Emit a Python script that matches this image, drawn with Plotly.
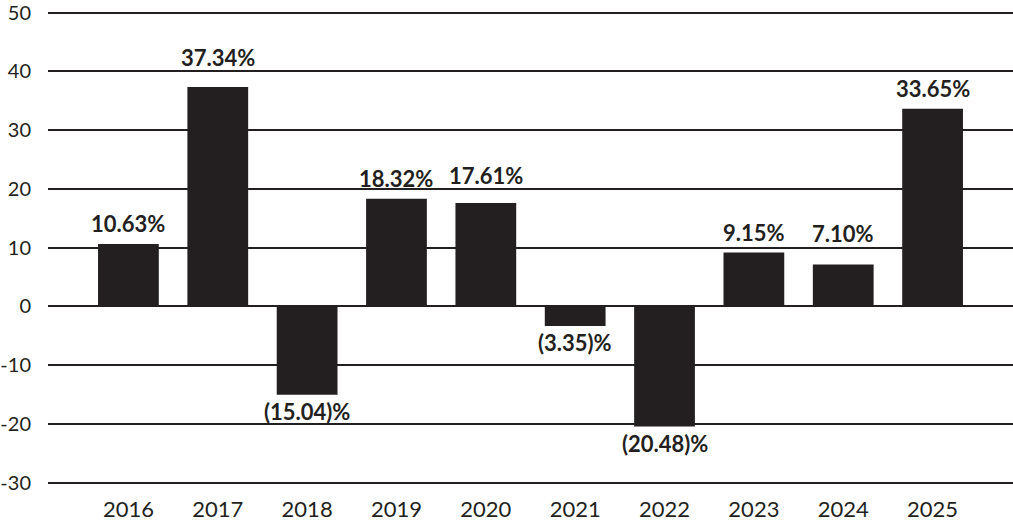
import plotly.graph_objects as go

years = ["2016", "2017", "2018", "2019", "2020", "2021", "2022", "2023", "2024", "2025"]
returns = [10.63, 37.34, -15.04, 18.32, 17.61, -3.35, -20.48, 9.15, 7.10, 33.65]
y_ticks = [50, 40, 30, 20, 10, 0, -10, -20, -30]

INK = "#231f20"
FONT = "Lato"


def fmt(v):
    return f"{v:.2f}%" if v >= 0 else f"({abs(v):.2f})%"


def label_base(v):
    # place the label a little above the bar; lift it over a gridline it would cross
    base = v + 2.0
    for g in y_ticks:
        if base <= g <= base + 3.2:
            base = g + 0.9
    return base


fig = go.Figure()
fig.add_trace(go.Bar(
    x=list(range(len(years))),
    y=returns,
    width=0.68,
    marker=dict(color=INK, line=dict(width=0)),
    hoverinfo="skip",
))

for i, v in enumerate(returns):
    if v >= 0:
        fig.add_annotation(
            x=i, y=label_base(v), text=fmt(v), showarrow=False,
            yanchor="bottom", yshift=-7,
            font=dict(family=FONT, size=22, color=INK, weight="bold"),
        )
    else:
        fig.add_annotation(
            x=i, y=v, text=fmt(v), showarrow=False,
            yanchor="top", yshift=-1,
            font=dict(family=FONT, size=22, color=INK, weight="bold"),
        )

fig.update_layout(
    width=1013, height=522,
    margin=dict(l=48, r=0, t=10, b=38, autoexpand=False),
    paper_bgcolor="white", plot_bgcolor="white",
    showlegend=False,
    font=dict(family=FONT, size=22, color=INK),
)
fig.update_xaxes(
    range=[-0.9, 9.9],
    tickmode="array", tickvals=list(range(len(years))), ticktext=years,
    showgrid=False, zeroline=False, showline=False,
    ticks="outside", ticklen=6, tickcolor="rgba(0,0,0,0)",
    tickfont=dict(family=FONT, size=22, color=INK),
    ticklabeloverflow="allow",
    automargin=False, fixedrange=True,
)
fig.update_yaxes(
    range=[-30.25, 50.45],
    tickmode="array", tickvals=y_ticks, ticktext=[str(t) for t in y_ticks],
    showgrid=True, gridcolor=INK, gridwidth=2,
    zeroline=False, showline=False,
    ticks="outside", ticklen=12, tickcolor="rgba(0,0,0,0)",
    tickfont=dict(family=FONT, size=20, color=INK),
    ticklabeloverflow="allow",
    automargin=False, fixedrange=True,
)

fig.write_html("out.html")
